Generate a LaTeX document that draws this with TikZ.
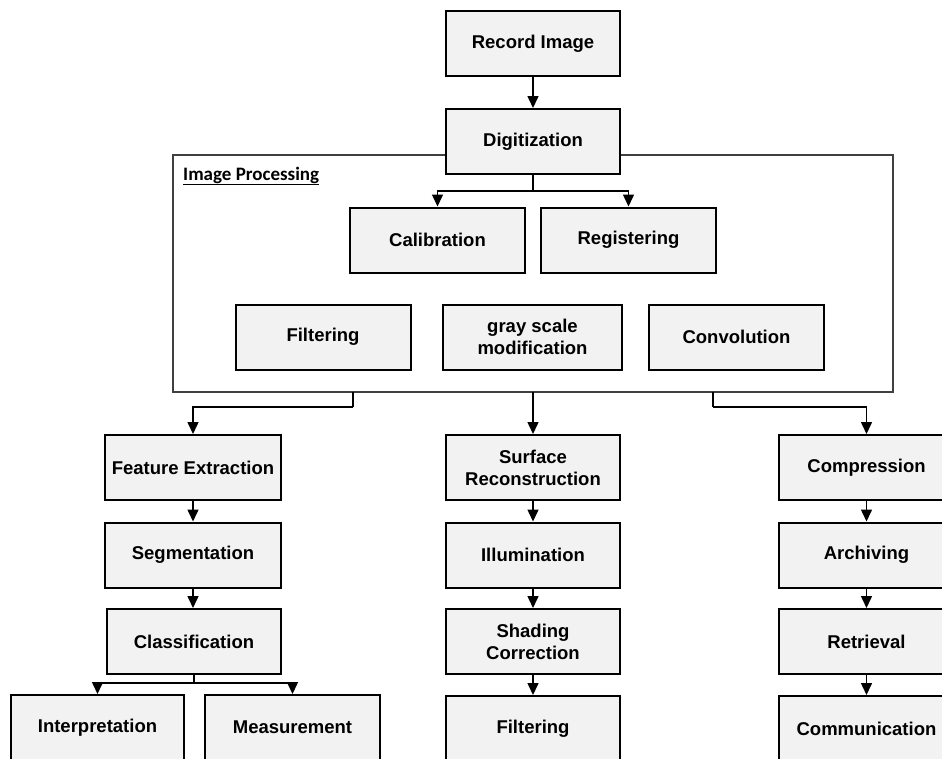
\documentclass[tikz,border=0pt]{standalone}
\usepackage{fontspec}
\newfontfamily\arialfont{Liberation Sans}[BoldFont={Liberation Sans Bold}]
\newfontfamily\carlito{Carlito}[BoldFont={Carlito Bold}]
\usetikzlibrary{arrows.meta,positioning}
\definecolor{boxfill}{HTML}{F2F2F2}
\definecolor{framecol}{HTML}{404040}
\begin{document}
\begin{tikzpicture}[x=1pt,y=-1pt,
  box/.style={draw=black, line width=2pt, fill=boxfill, minimum width=175pt, minimum height=65pt,
     inner sep=2pt, align=center, font=\arialfont\fontsize{18.5}{22}\selectfont\bfseries},
  arr/.style={line width=1.5pt, -{Triangle[length=12pt,width=11pt]}},
  ln/.style={line width=1.5pt},
  framebox/.style={draw=framecol, line width=1.1pt}]
\useasboundingbox (0,0) rectangle (942,758);
\clip (0,0) rectangle (942,758);
% frame
\node[framebox, minimum width=720pt, minimum height=237pt, inner sep=0pt] (ip) at (533,273.5) {};
\node[anchor=base west, inner sep=0pt, font=\carlito\fontsize{19}{22}\selectfont\bfseries] (iplabel) at (183,180) {\underline{Image Processing}};
% boxes
\node[box, minimum width=174pt] (rec) at (533,43.5) {Record Image};
\node[box, minimum width=174pt] (dig) at (533,141.5) {Digitization};
\node[box] (cal) at (437.5,240) {Calibration};
\node[box] (reg) at (628.5,240) {Registering};
\node[box] (filt) at (323,337) {Filtering};
\node[box, minimum width=179pt] (gray) at (532.5,337) {gray scale\\modification};
\node[box] (conv) at (736.5,337) {Convolution};
\node[box, minimum width=176pt] (feat) at (193,467.5) {Feature Extraction};
\node[box, minimum width=176pt] (seg) at (193,555) {Segmentation};
\node[box, minimum width=174pt] (cls) at (194,641.5) {Classification};
\node[box, minimum width=173pt] (interp) at (97.5,727.5) {Interpretation};
\node[box] (meas) at (292.5,727.5) {Measurement};
\node[box, minimum width=174pt] (surf) at (533,467.5) {Surface\\Reconstruction};
\node[box, minimum width=174pt] (illum) at (533,555) {Illumination};
\node[box, minimum width=174pt] (shade) at (533,641.5) {Shading\\Correction};
\node[box, minimum width=174pt] (filt2) at (533,728.5) {Filtering};
\node[box] (comp) at (866.5,467.5) {Compression};
\node[box] (arch) at (866.5,555) {Archiving};
\node[box] (retr) at (866.5,641.5) {Retrieval};
\node[box] (comm) at (866.5,728.5) {Communication};
% connectors
\draw[arr] (rec.south) -- (dig.north);
\coordinate (j1) at (533,191);
\draw[ln] (dig.south) -- (j1);
\draw[arr] (j1) -| (cal.north);
\draw[arr] (j1) -| (reg.north);
\coordinate (fb1) at (353,392);
\coordinate (fb2) at (533,392);
\coordinate (fb3) at (713,392);
\coordinate (k1) at (353,407);
\coordinate (k3) at (713,407);
\draw[ln] (fb1) -- (k1);
\draw[arr] (k1) -| (feat.north);
\draw[arr] (fb2) -- (surf.north);
\draw[ln] (fb3) -- (k3);
\draw[arr] (k3) -| (comp.north);
\draw[arr] (feat.south) -- (seg.north);
\draw[arr] (seg.south) -- (seg.south |- cls.north);
\coordinate (j2) at (194,683);
\draw[ln] (cls.south) -- (j2);
\draw[arr] (j2) -| (interp.north);
\draw[arr] (j2) -| (meas.north);
\draw[arr] (surf.south) -- (illum.north);
\draw[arr] (illum.south) -- (shade.north);
\draw[arr] (shade.south) -- (filt2.north);
\draw[arr] (comp.south) -- (arch.north);
\draw[arr] (arch.south) -- (retr.north);
\draw[arr] (retr.south) -- (comm.north);
\end{tikzpicture}
\end{document}
